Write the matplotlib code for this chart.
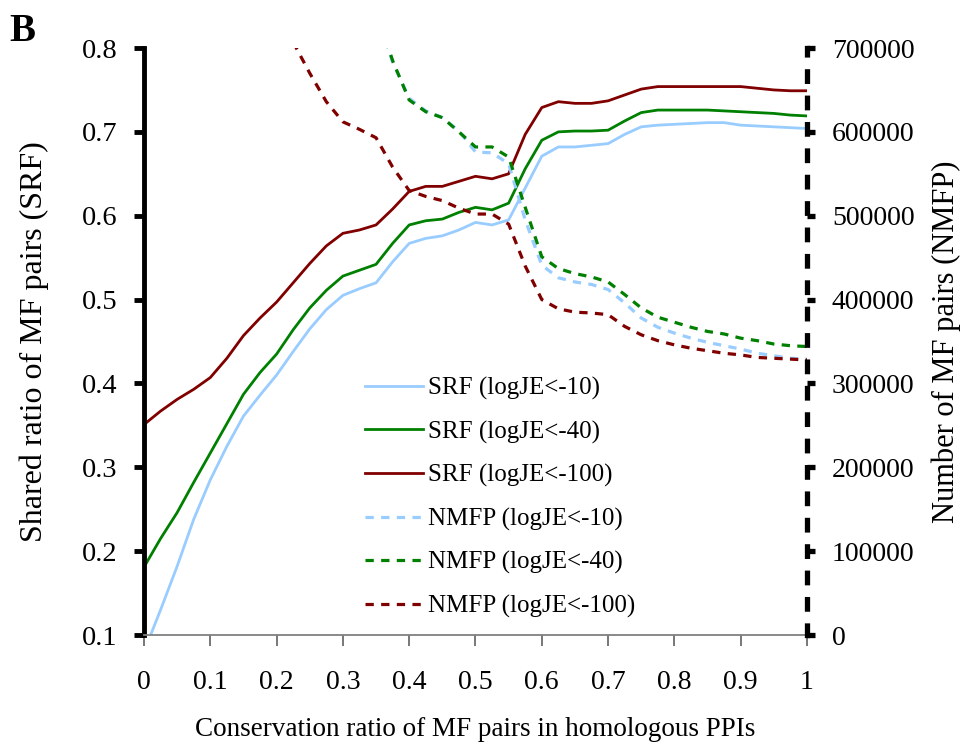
import numpy as np
import matplotlib
matplotlib.use("Agg")
import matplotlib.pyplot as plt

plt.rcParams["font.family"] = ["Liberation Serif", "DejaVu Serif"]

nan = np.nan

# conservation ratio (x axis), step 0.025
ratio = [round(0.025 * i, 3) for i in range(41)]

# shared ratio of MF pairs (left axis)
srf_10 = [0.080, 0.130, 0.182, 0.238, 0.285, 0.325, 0.361, 0.386, 0.410, 0.438,
          0.465, 0.488, 0.505, 0.513, 0.520, 0.545, 0.567, 0.573, 0.576, 0.583,
          0.592, 0.589, 0.595, 0.633, 0.671, 0.682, 0.682, 0.684, 0.686, 0.697,
          0.706, 0.708, 0.709, 0.710, 0.711, 0.711, 0.708, 0.707, 0.706, 0.705,
          0.704]
srf_40 = [0.181, 0.215, 0.246, 0.282, 0.317, 0.352, 0.387, 0.413, 0.435, 0.464,
          0.490, 0.511, 0.528, 0.535, 0.542, 0.567, 0.589, 0.594, 0.596, 0.604,
          0.610, 0.607, 0.615, 0.656, 0.690, 0.700, 0.701, 0.701, 0.702, 0.713,
          0.723, 0.726, 0.726, 0.726, 0.726, 0.725, 0.724, 0.723, 0.722, 0.720,
          0.719]
srf_100 = [0.351, 0.367, 0.381, 0.393, 0.407, 0.430, 0.457, 0.478, 0.497, 0.520,
           0.543, 0.564, 0.579, 0.583, 0.589, 0.608, 0.629, 0.635, 0.635, 0.641,
           0.647, 0.644, 0.650, 0.697, 0.729, 0.736, 0.734, 0.734, 0.737, 0.744,
           0.751, 0.754, 0.754, 0.754, 0.754, 0.754, 0.754, 0.752, 0.750, 0.749,
           0.749]

# number of MF pairs (right axis)
nmfp_10 = [nan] * 14 + [
    745000, 683000, 640000, 625000, 617000, 601000, 576000, 575000, 562000,
    495000, 441000, 426000, 421000, 418000, 412000, 396000, 378000, 367000,
    360000, 354000, 349000, 345000, 341000, 336000, 333000, 330000, 329000]
nmfp_40 = [nan] * 14 + [
    745000, 685000, 638000, 624000, 617000, 600000, 582000, 582000, 570000,
    510000, 451000, 437000, 431000, 427000, 421000, 406000, 390000, 379000,
    373000, 367000, 362000, 359000, 354000, 351000, 347000, 345000, 344000]
nmfp_100 = [nan] * 9 + [
    707000, 670000, 636000, 612000, 603000, 593000, 558000, 530000, 523000,
    518000, 509000, 502000, 502000, 490000, 440000, 400000, 389000, 385000,
    384000, 382000, 368000, 358000, 351000, 346000, 342000, 339000, 336000,
    334000, 331000, 330000, 329000, 328000]

c_blue = "#99CCFF"
c_green = "#008000"
c_red = "#800000"
dash = (0, (2.6, 2.3))

fig = plt.figure(figsize=(9.69, 7.49), dpi=100)
ax = fig.add_axes([0.1486, 0.1522, 0.6842, 0.7837])
ax2 = ax.twinx()

h1, = ax.plot(ratio, srf_10, color=c_blue, lw=2.0, label="SRF (logJE<-10)")
h2, = ax.plot(ratio, srf_40, color=c_green, lw=2.0, label="SRF (logJE<-40)")
h3, = ax.plot(ratio, srf_100, color=c_red, lw=2.0, label="SRF (logJE<-100)")
h4, = ax2.plot(ratio, nmfp_10, color=c_blue, lw=2.3, ls=dash, label="NMFP (logJE<-10)")
h5, = ax2.plot(ratio, nmfp_40, color=c_green, lw=2.3, ls=dash, label="NMFP (logJE<-40)")
h6, = ax2.plot(ratio, nmfp_100, color=c_red, lw=2.3, ls=dash, label="NMFP (logJE<-100)")

ax.set_xlim(0, 1)
ax.set_ylim(0.1, 0.8)
ax2.set_ylim(0, 700000)
ax.set_xticks(np.arange(0, 1.01, 0.1))
ax.set_xticklabels(["0", "0.1", "0.2", "0.3", "0.4", "0.5", "0.6", "0.7", "0.8", "0.9", "1"])
ax.set_yticks(np.arange(0.1, 0.81, 0.1))
ax.set_yticklabels(["%.1f" % v for v in np.arange(0.1, 0.81, 0.1)])
ax2.set_yticks(range(0, 700001, 100000))
ax2.set_yticklabels([str(v) for v in range(0, 700001, 100000)])

for s in ["top", "right"]:
    ax.spines[s].set_visible(False)
for s in ["top", "left", "bottom"]:
    ax2.spines[s].set_visible(False)
ax.spines["left"].set_linewidth(3.5)
ax.spines["left"].set_color("black")
ax.spines["bottom"].set_linewidth(1.3)
ax.spines["bottom"].set_color("#808080")
ax2.spines["right"].set_linewidth(3.8)
ax2.spines["right"].set_linestyle((0, (1.8, 3.2)))
ax2.spines["right"].set_color("black")

ax.tick_params(axis="y", direction="out", length=7, width=3.5, pad=12, labelsize=20.5)
ax.tick_params(axis="x", direction="out", length=8, width=1.2, color="#606060",
               pad=17, labelsize=20)
ax2.tick_params(axis="y", direction="out", length=6, width=3.8, pad=12, labelsize=20)

ax.set_xlabel("Conservation ratio of MF pairs in homologous PPIs", fontsize=19.5, labelpad=16)
ax.set_ylabel("Shared ratio of MF pairs (SRF)", fontsize=23, labelpad=24)
ax2.set_ylabel("Number of MF pairs (NMFP)", fontsize=22, labelpad=12)

ax2.legend(handles=[h1, h2, h3, h4, h5, h6], loc="upper left",
           bbox_to_anchor=(0.30, 0.478), frameon=False, fontsize=18,
           handlelength=2.3, handletextpad=0.2, labelspacing=0.82)

fig.text(0.01, 0.945, "B", fontsize=28, fontweight="bold")

fig.savefig("out.png", dpi=100)
